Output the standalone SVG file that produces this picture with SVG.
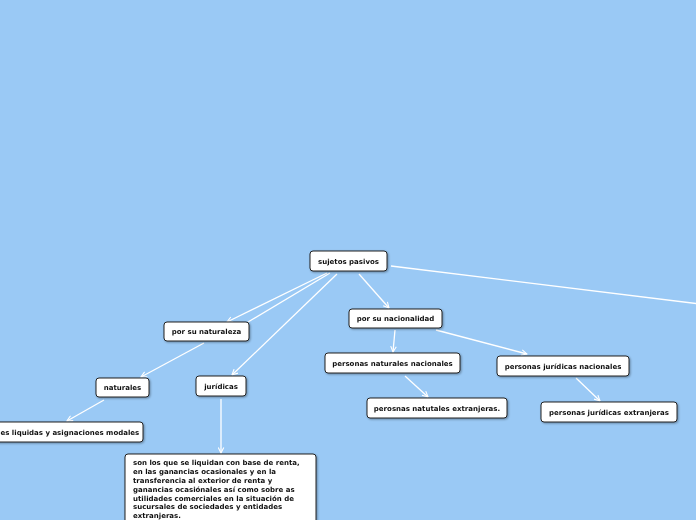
<svg xmlns="http://www.w3.org/2000/svg" width="696" height="520" viewBox="0 0 696 520">
<style>
.n rect{fill:#fff;stroke:#222;stroke-width:1}
.n text{font-family:"DejaVu Sans",Verdana,sans-serif;font-weight:bold;font-size:7px;fill:#111;text-anchor:middle}
.n text.l,.b text{text-anchor:start}
.c line{stroke:#fff;stroke-width:1.3;marker-end:url(#a)}
.c line.nm{marker-end:none}
</style>
<defs>
<marker id="a" viewBox="0 0 10 10" refX="9" refY="5" markerWidth="7" markerHeight="7" markerUnits="userSpaceOnUse" orient="auto">
<path d="M1,1 L9,5 L1,9" fill="none" stroke="#fff" stroke-width="1.6"/>
</marker>
<filter id="s" x="-10%" y="-10%" width="130%" height="140%"><feDropShadow dx="1" dy="1" stdDeviation="0.8" flood-color="#000" flood-opacity="0.35"/></filter>
</defs>
<rect width="696" height="520" fill="#9ac9f5"/>
<g class="c">
<line x1="327" y1="273" x2="227" y2="322"/>
<line class="nm" x1="330" y1="273" x2="248" y2="322"/>
<line x1="337" y1="274" x2="232" y2="375"/>
<line x1="359" y1="274" x2="389" y2="308"/>
<line class="nm" x1="391" y1="266" x2="700" y2="304"/>
<line x1="204" y1="343" x2="141" y2="377"/>
<line x1="104" y1="400" x2="67" y2="421"/>
<line x1="221" y1="399" x2="221" y2="453"/>
<line x1="395" y1="330" x2="393" y2="352"/>
<line x1="436" y1="330" x2="527" y2="354"/>
<line x1="405" y1="376" x2="428" y2="397"/>
<line x1="576" y1="378" x2="600" y2="401"/>
</g>
<g id="sujetos" class="n" filter="url(#s)"><rect x="310" y="251" width="77" height="20" rx="3"/><text x="348.5" y="263.5">sujetos pasivos</text></g>
<g id="naturaleza" class="n" filter="url(#s)"><rect x="164" y="322" width="85" height="19" rx="3"/><text x="206.5" y="334">por su naturaleza</text></g>
<g id="nacionalidad" class="n" filter="url(#s)"><rect x="349" y="309" width="93" height="19" rx="3"/><text x="395.5" y="321">por su nacionalidad</text></g>
<g id="naturales" class="n" filter="url(#s)"><rect x="96" y="378" width="53" height="19" rx="3"/><text x="122.5" y="390">naturales</text></g>
<g id="juridicas" class="n" filter="url(#s)"><rect x="196" y="376" width="50" height="20" rx="3"/><text x="221" y="388.5">jurídicas</text></g>
<g id="rentas" class="n" filter="url(#s)"><rect x="-6" y="422" width="149" height="20" rx="3"/><text class="l" x="0.5" y="434.5">es liquidas y asignaciones modales</text></g>
<g id="pnn" class="n" filter="url(#s)"><rect x="325" y="353" width="135" height="20" rx="3"/><text x="392.5" y="365.5">personas naturales nacionales</text></g>
<g id="pne" class="n" filter="url(#s)"><rect x="367" y="398" width="140" height="20" rx="3"/><text x="437" y="410.5">perosnas natutales extranjeras.</text></g>
<g id="pjn" class="n" filter="url(#s)"><rect x="497" y="356" width="132" height="20" rx="3"/><text x="563" y="368.5">personas jurídicas nacionales</text></g>
<g id="pje" class="n" filter="url(#s)"><rect x="541" y="402" width="136" height="20" rx="3"/><text x="609" y="414.5">personas jurídicas extranjeras</text></g>
<g id="desc" class="n b" filter="url(#s)"><rect x="125" y="454" width="191" height="72" rx="3"/>
<text x="133" y="465">son los que se liquidan con base de renta,</text>
<text x="133" y="474">en las ganancias ocasionales y en la</text>
<text x="133" y="483">transferencia al exterior de renta y</text>
<text x="133" y="492">ganancias ocasiónales así como sobre as</text>
<text x="133" y="500.5">utilidades comerciales en la situación de</text>
<text x="133" y="509">sucursales de sociedades y entidades</text>
<text x="133" y="518">extranjeras.</text>
</g>
</svg>
